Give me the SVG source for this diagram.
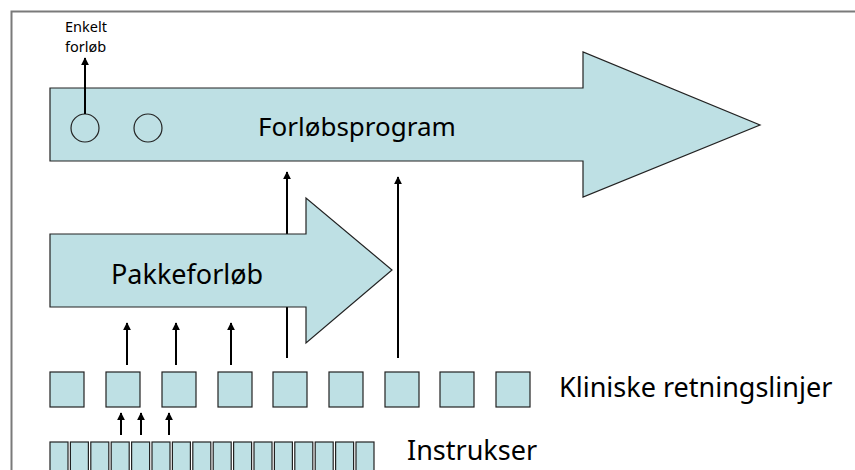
<svg xmlns="http://www.w3.org/2000/svg" width="855" height="470" viewBox="0 0 855 470">
<defs>
<marker id="ah" viewBox="0 0 10 10" refX="9" refY="5" markerWidth="4" markerHeight="4" orient="auto" markerUnits="strokeWidth">
<path d="M0,0 L10,5 L0,10 z" fill="#000"/>
</marker>
<style>
.shape{fill:#bee0e4;stroke:#222;stroke-width:1.2}
.circ{fill:none;stroke:#222;stroke-width:1.2}
.lbl{font-family:"Noto Sans","Open Sans","Liberation Sans",sans-serif;fill:#000}
.big{font-size:27px}
.small{font-size:14.5px}
.arr{stroke:#000;stroke-width:2;fill:none;marker-end:url(#ah)}
</style>
</defs>
<rect x="11.5" y="11.5" width="850" height="470" fill="#fff" stroke="#7a7a7a" stroke-width="2"/>

<g id="connectors-back">
<path class="arr" d="M287,358 V172"/>
</g>

<g id="forloebsprogram">
<path class="shape" d="M50,88 H583 V52 L760,125 L583,197 V161 H50 Z"/>
<circle class="circ" cx="85" cy="128" r="14"/>
<circle class="circ" cx="148" cy="128" r="14"/>
<text class="lbl" x="258" y="136" font-size="26">Forløbsprogram</text>
</g>

<g id="enkelt-forloeb">
<text class="lbl small" x="65" y="32">Enkelt</text>
<text class="lbl small" x="65" y="52">forløb</text>
</g>

<g id="pakkeforloeb">
<path class="shape" d="M50,234 H306 V198 L392,270 L306,343 V307 H50 Z"/>
<text class="lbl big" x="111" y="284">Pakkeforløb</text>
</g>

<g id="kliniske-retningslinjer">
<rect class="shape" x="50" y="372" width="34" height="35"/>
<rect class="shape" x="106" y="372" width="34" height="35"/>
<rect class="shape" x="162" y="372" width="34" height="35"/>
<rect class="shape" x="218" y="372" width="34" height="35"/>
<rect class="shape" x="273" y="372" width="34" height="35"/>
<rect class="shape" x="329" y="372" width="34" height="35"/>
<rect class="shape" x="385" y="372" width="34" height="35"/>
<rect class="shape" x="440" y="372" width="34" height="35"/>
<rect class="shape" x="496" y="372" width="34" height="35"/>
<text class="lbl big" x="559" y="397">Kliniske retningslinjer</text>
</g>

<g id="instrukser">
<rect class="shape" x="50" y="442" width="18" height="40"/>
<rect class="shape" x="70.4" y="442" width="18" height="40"/>
<rect class="shape" x="90.8" y="442" width="18" height="40"/>
<rect class="shape" x="111.2" y="442" width="18" height="40"/>
<rect class="shape" x="131.6" y="442" width="18" height="40"/>
<rect class="shape" x="152" y="442" width="18" height="40"/>
<rect class="shape" x="172.4" y="442" width="18" height="40"/>
<rect class="shape" x="192.8" y="442" width="18" height="40"/>
<rect class="shape" x="213.2" y="442" width="18" height="40"/>
<rect class="shape" x="233.6" y="442" width="18" height="40"/>
<rect class="shape" x="254" y="442" width="18" height="40"/>
<rect class="shape" x="274.4" y="442" width="18" height="40"/>
<rect class="shape" x="294.8" y="442" width="18" height="40"/>
<rect class="shape" x="315.2" y="442" width="18" height="40"/>
<rect class="shape" x="335.6" y="442" width="18" height="40"/>
<rect class="shape" x="356" y="442" width="18" height="40"/>
<text class="lbl big" x="407" y="460">Instrukser</text>
</g>

<g id="connectors">
<path class="arr" d="M85,114 V58"/>
<path class="arr" d="M398,358 V177"/>
<path class="arr" d="M127,365 V323"/>
<path class="arr" d="M176,365 V323"/>
<path class="arr" d="M231,365 V323"/>
<path class="arr" d="M121,435 V413"/>
<path class="arr" d="M141,435 V413"/>
<path class="arr" d="M169,435 V413"/>
</g>
</svg>
